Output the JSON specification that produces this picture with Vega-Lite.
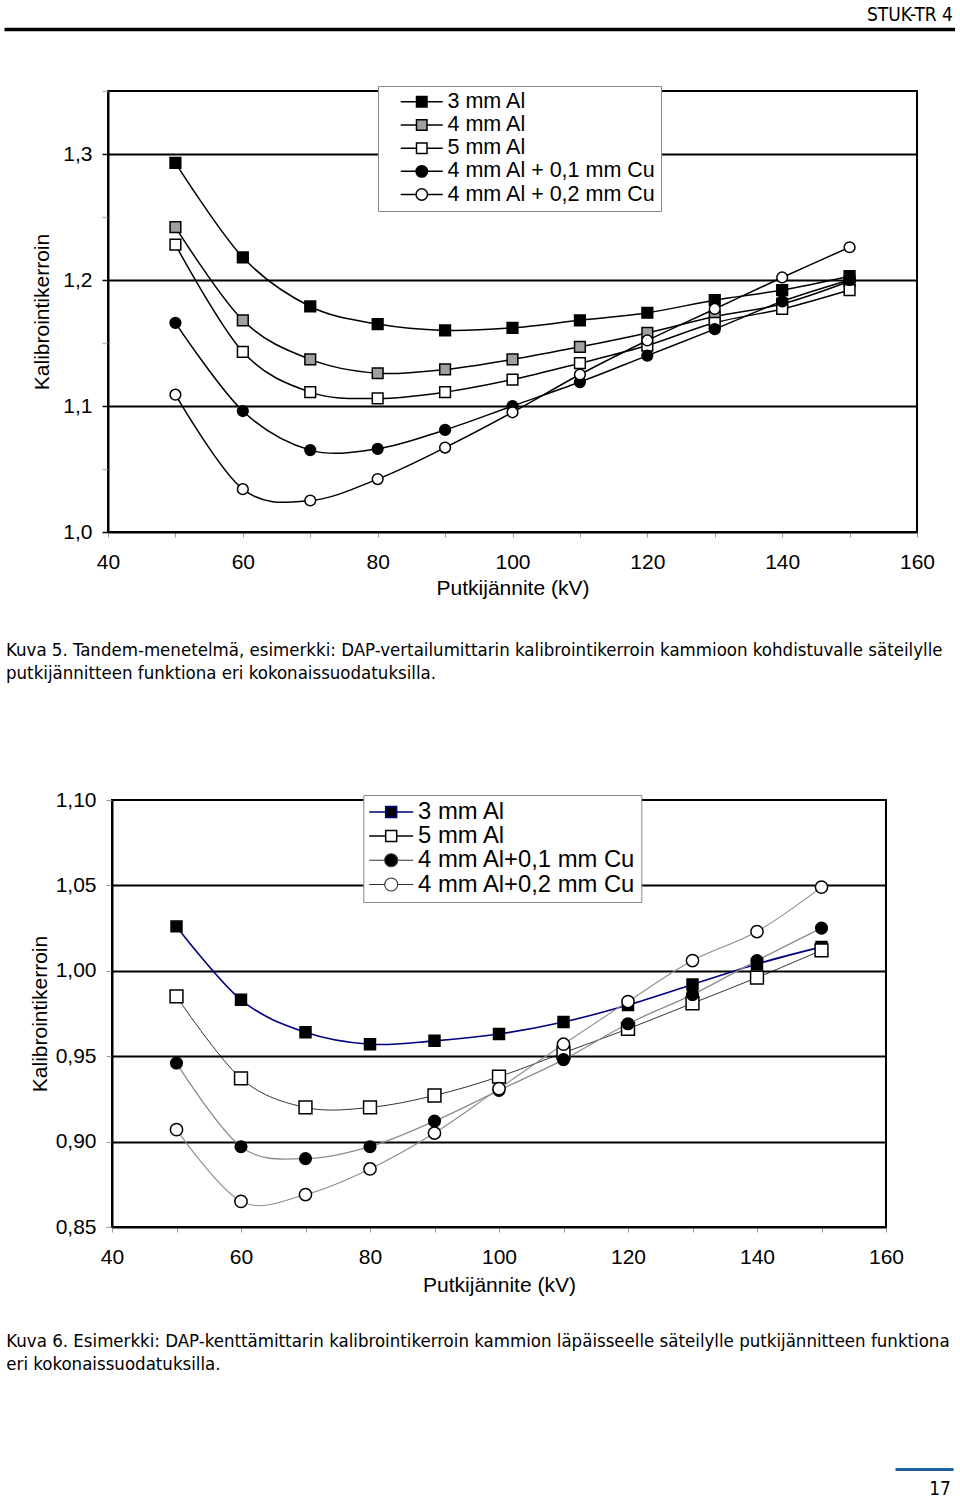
{
  "$schema": "https://vega.github.io/schema/vega-lite/v6.json",
  "background": "white",
  "padding": {"left": 4, "top": 6, "right": 0, "bottom": 0},
  "columns": 1,
  "align": "none",
  "spacing": 0,
  "resolve": {
    "scale": {"shape": "independent", "fill": "independent", "stroke": "independent", "size": "independent", "strokeWidth": "independent"},
    "legend": {"shape": "independent", "fill": "independent", "stroke": "independent", "strokeWidth": "independent"}
  },
  "config": {
    "font": "Liberation Sans",
    "view": {"stroke": null},
    "axis": {"labelFont": "Liberation Sans", "titleFont": "Liberation Sans", "titleFontWeight": "normal", "labelColor": "black", "titleColor": "black"},
    "legend": {"labelFont": "Liberation Sans", "labelColor": "black"}
  },
  "datasets": {
    "kuva5": [
      {"series": "3 mm Al", "kV": 50, "k": 1.293}, {"series": "3 mm Al", "kV": 60, "k": 1.218}, {"series": "3 mm Al", "kV": 70, "k": 1.179}, {"series": "3 mm Al", "kV": 80, "k": 1.165}, {"series": "3 mm Al", "kV": 90, "k": 1.160}, {"series": "3 mm Al", "kV": 100, "k": 1.162}, {"series": "3 mm Al", "kV": 110, "k": 1.168}, {"series": "3 mm Al", "kV": 120, "k": 1.174}, {"series": "3 mm Al", "kV": 130, "k": 1.184}, {"series": "3 mm Al", "kV": 140, "k": 1.192}, {"series": "3 mm Al", "kV": 150, "k": 1.203},
      {"series": "4 mm Al", "kV": 50, "k": 1.242}, {"series": "4 mm Al", "kV": 60, "k": 1.168}, {"series": "4 mm Al", "kV": 70, "k": 1.137}, {"series": "4 mm Al", "kV": 80, "k": 1.126}, {"series": "4 mm Al", "kV": 90, "k": 1.129}, {"series": "4 mm Al", "kV": 100, "k": 1.137}, {"series": "4 mm Al", "kV": 110, "k": 1.147}, {"series": "4 mm Al", "kV": 120, "k": 1.158}, {"series": "4 mm Al", "kV": 130, "k": 1.171}, {"series": "4 mm Al", "kV": 140, "k": 1.181}, {"series": "4 mm Al", "kV": 150, "k": 1.199},
      {"series": "5 mm Al", "kV": 50, "k": 1.228}, {"series": "5 mm Al", "kV": 60, "k": 1.143}, {"series": "5 mm Al", "kV": 70, "k": 1.111}, {"series": "5 mm Al", "kV": 80, "k": 1.106}, {"series": "5 mm Al", "kV": 90, "k": 1.111}, {"series": "5 mm Al", "kV": 100, "k": 1.121}, {"series": "5 mm Al", "kV": 110, "k": 1.134}, {"series": "5 mm Al", "kV": 120, "k": 1.148}, {"series": "5 mm Al", "kV": 130, "k": 1.166}, {"series": "5 mm Al", "kV": 140, "k": 1.177}, {"series": "5 mm Al", "kV": 150, "k": 1.192},
      {"series": "4 mm Al + 0,1 mm Cu", "kV": 50, "k": 1.166}, {"series": "4 mm Al + 0,1 mm Cu", "kV": 60, "k": 1.096}, {"series": "4 mm Al + 0,1 mm Cu", "kV": 70, "k": 1.065}, {"series": "4 mm Al + 0,1 mm Cu", "kV": 80, "k": 1.066}, {"series": "4 mm Al + 0,1 mm Cu", "kV": 90, "k": 1.081}, {"series": "4 mm Al + 0,1 mm Cu", "kV": 100, "k": 1.100}, {"series": "4 mm Al + 0,1 mm Cu", "kV": 110, "k": 1.119}, {"series": "4 mm Al + 0,1 mm Cu", "kV": 120, "k": 1.140}, {"series": "4 mm Al + 0,1 mm Cu", "kV": 130, "k": 1.161}, {"series": "4 mm Al + 0,1 mm Cu", "kV": 140, "k": 1.183}, {"series": "4 mm Al + 0,1 mm Cu", "kV": 150, "k": 1.200},
      {"series": "4 mm Al + 0,2 mm Cu", "kV": 50, "k": 1.109}, {"series": "4 mm Al + 0,2 mm Cu", "kV": 60, "k": 1.034}, {"series": "4 mm Al + 0,2 mm Cu", "kV": 70, "k": 1.025}, {"series": "4 mm Al + 0,2 mm Cu", "kV": 80, "k": 1.042}, {"series": "4 mm Al + 0,2 mm Cu", "kV": 90, "k": 1.067}, {"series": "4 mm Al + 0,2 mm Cu", "kV": 100, "k": 1.095}, {"series": "4 mm Al + 0,2 mm Cu", "kV": 110, "k": 1.125}, {"series": "4 mm Al + 0,2 mm Cu", "kV": 120, "k": 1.152}, {"series": "4 mm Al + 0,2 mm Cu", "kV": 130, "k": 1.177}, {"series": "4 mm Al + 0,2 mm Cu", "kV": 140, "k": 1.202}, {"series": "4 mm Al + 0,2 mm Cu", "kV": 150, "k": 1.226}
    ],
    "kuva6": [
      {"series": "3 mm Al", "kV": 50, "k": 1.026}, {"series": "3 mm Al", "kV": 60, "k": 0.983}, {"series": "3 mm Al", "kV": 70, "k": 0.964}, {"series": "3 mm Al", "kV": 80, "k": 0.957}, {"series": "3 mm Al", "kV": 90, "k": 0.959}, {"series": "3 mm Al", "kV": 100, "k": 0.963}, {"series": "3 mm Al", "kV": 110, "k": 0.970}, {"series": "3 mm Al", "kV": 120, "k": 0.980}, {"series": "3 mm Al", "kV": 130, "k": 0.992}, {"series": "3 mm Al", "kV": 140, "k": 1.004}, {"series": "3 mm Al", "kV": 150, "k": 1.014},
      {"series": "5 mm Al", "kV": 50, "k": 0.985}, {"series": "5 mm Al", "kV": 60, "k": 0.937}, {"series": "5 mm Al", "kV": 70, "k": 0.920}, {"series": "5 mm Al", "kV": 80, "k": 0.920}, {"series": "5 mm Al", "kV": 90, "k": 0.927}, {"series": "5 mm Al", "kV": 100, "k": 0.938}, {"series": "5 mm Al", "kV": 110, "k": 0.952}, {"series": "5 mm Al", "kV": 120, "k": 0.966}, {"series": "5 mm Al", "kV": 130, "k": 0.981}, {"series": "5 mm Al", "kV": 140, "k": 0.996}, {"series": "5 mm Al", "kV": 150, "k": 1.012},
      {"series": "4 mm Al+0,1 mm Cu", "kV": 50, "k": 0.946}, {"series": "4 mm Al+0,1 mm Cu", "kV": 60, "k": 0.897}, {"series": "4 mm Al+0,1 mm Cu", "kV": 70, "k": 0.890}, {"series": "4 mm Al+0,1 mm Cu", "kV": 80, "k": 0.897}, {"series": "4 mm Al+0,1 mm Cu", "kV": 90, "k": 0.912}, {"series": "4 mm Al+0,1 mm Cu", "kV": 100, "k": 0.930}, {"series": "4 mm Al+0,1 mm Cu", "kV": 110, "k": 0.948}, {"series": "4 mm Al+0,1 mm Cu", "kV": 120, "k": 0.969}, {"series": "4 mm Al+0,1 mm Cu", "kV": 130, "k": 0.986}, {"series": "4 mm Al+0,1 mm Cu", "kV": 140, "k": 1.006}, {"series": "4 mm Al+0,1 mm Cu", "kV": 150, "k": 1.025},
      {"series": "4 mm Al+0,2 mm Cu", "kV": 50, "k": 0.907}, {"series": "4 mm Al+0,2 mm Cu", "kV": 60, "k": 0.865}, {"series": "4 mm Al+0,2 mm Cu", "kV": 70, "k": 0.869}, {"series": "4 mm Al+0,2 mm Cu", "kV": 80, "k": 0.884}, {"series": "4 mm Al+0,2 mm Cu", "kV": 90, "k": 0.905}, {"series": "4 mm Al+0,2 mm Cu", "kV": 100, "k": 0.931}, {"series": "4 mm Al+0,2 mm Cu", "kV": 110, "k": 0.957}, {"series": "4 mm Al+0,2 mm Cu", "kV": 120, "k": 0.982}, {"series": "4 mm Al+0,2 mm Cu", "kV": 130, "k": 1.006}, {"series": "4 mm Al+0,2 mm Cu", "kV": 140, "k": 1.023}, {"series": "4 mm Al+0,2 mm Cu", "kV": 150, "k": 1.049}
    ],
    "marker": [{"a": 0.5}],
    "none": []
  },
  "concat": [
    {
      "width": 951,
      "height": 50,
      "view": {"stroke": null},
      "data": {"name": "marker"},
      "mark": {"type": "point", "opacity": 0, "size": 1},
      "encoding": {
        "x": {"field": "a", "type": "quantitative", "scale": {"domain": [0, 1]},
          "axis": {"orient": "top", "domainWidth": 3.5, "domainColor": "black", "ticks": false, "labels": false, "grid": false, "title": null}}
      },
      "title": {"text": "STUK-TR 4", "anchor": "end", "frame": "group", "font": "DejaVu Sans Condensed, Liberation Sans", "fontSize": 19, "fontWeight": "normal", "color": "black", "offset": 4, "dx": -2}
    },
    {
      "spacing": 0,
      "resolve": {"scale": {"shape": "independent", "fill": "independent"}, "legend": {"shape": "independent", "fill": "independent"}},
      "hconcat": [
        {
          "width": 1, "height": 1, "view": {"stroke": null},
          "data": {"name": "none"}, "mark": "point"
        },
        {
          "width": 809,
          "height": 441,
          "view": {"stroke": "black", "strokeWidth": 2},
          "data": {"name": "kuva5"},
          "title": {
            "text": ["Kuva 5. Tandem-menetelmä, esimerkki: DAP-vertailumittarin kalibrointikerroin kammioon kohdistuvalle säteilylle", "putkijännitteen funktiona eri kokonaissuodatuksilla."],
            "orient": "bottom", "anchor": "start", "frame": "group", "align": "left", "dx": -102, "offset": 43,
            "font": "DejaVu Sans Condensed, Liberation Sans", "fontSize": 18.5, "fontWeight": "normal", "color": "black", "lineHeight": 23
          },
          "resolve": {"scale": {"shape": "independent", "fill": "independent"}, "legend": {"shape": "independent", "fill": "independent"}},
          "encoding": {
            "x": {"field": "kV", "type": "quantitative", "scale": {"domain": [40, 160], "nice": false, "zero": false},
              "axis": {"values": [40, 50, 60, 70, 80, 90, 100, 110, 120, 130, 140, 150, 160],
                "labelExpr": "datum.value % 20 == 0 ? datum.label : ''",
                "title": "Putkijännite (kV)", "titleFontSize": 21, "titlePadding": 5,
                "labelFontSize": 21, "labelPadding": 14, "labelFlush": false, "labelOverlap": false,
                "tickSize": 5, "tickColor": "#999999", "tickWidth": 1,
                "domainColor": "black", "domainWidth": 2, "grid": false}},
            "y": {"field": "k", "type": "quantitative", "scale": {"domain": [1.0, 1.35], "nice": false, "zero": false},
              "axis": {"values": [1.0, 1.05, 1.1, 1.15, 1.2, 1.25, 1.3, 1.35],
                "labelExpr": "round(datum.value*100) % 10 == 0 ? replace(format(datum.value, '.1f'), '.', ',') : ''",
                "title": "Kalibrointikerroin", "titleFontSize": 21, "titlePadding": 10,
                "labelFontSize": 21, "labelPadding": 10, "labelOverlap": false, "labelFlush": false,
                "tickSize": 6, "tickWidth": 1.5,
                "tickColor": {"condition": {"test": "round(datum.value*100) % 10 == 0", "value": "black"}, "value": "#bbbbbb"},
                "grid": true, "gridColor": "black", "gridWidth": 2,
                "gridOpacity": {"condition": {"test": "round(datum.value*100) % 10 == 0 && datum.value > 1.01 && datum.value < 1.34", "value": 1}, "value": 0},
                "domainColor": "black", "domainWidth": 2}}
          },
          "layer": [
            {
              "mark": {"type": "line", "interpolate": "cardinal", "color": "black", "strokeWidth": 1.5},
              "encoding": {"detail": {"field": "series", "type": "nominal"}}
            },
            {
              "mark": {"type": "point", "filled": true, "stroke": "black", "strokeWidth": 1.5, "size": 115, "opacity": 1},
              "encoding": {
                "shape": {"field": "series", "type": "nominal",
                  "scale": {"range": ["square", "square", "circle", "circle", "square"]}, "legend": null},
                "fill": {"field": "series", "type": "nominal",
                  "scale": {"range": ["black", "#a0a0a0", "black", "white", "white"]}, "legend": null}
              }
            },
            {
              "transform": [{"filter": "false"}],
              "mark": {"type": "point", "filled": true, "stroke": "black", "strokeWidth": 1.5, "size": 121, "opacity": 1},
              "encoding": {
                "shape": {"field": "series", "type": "nominal",
                  "scale": {"domain": ["3 mm Al", "4 mm Al", "5 mm Al", "4 mm Al + 0,1 mm Cu", "4 mm Al + 0,2 mm Cu"],
                    "range": ["M-3.82,0H-0.955M0.955,0H3.82M-0.955,-0.955H0.955V0.955H-0.955Z", "M-3.82,0H-0.955M0.955,0H3.82M-0.955,-0.955H0.955V0.955H-0.955Z", "M-3.82,0H-0.955M0.955,0H3.82M-0.955,-0.955H0.955V0.955H-0.955Z", "M-3.82,0H-1.04M1.04,0H3.82M-1.04,0A1.04,1.04,0,1,1,1.04,0A1.04,1.04,0,1,1,-1.04,0Z", "M-3.82,0H-1.04M1.04,0H3.82M-1.04,0A1.04,1.04,0,1,1,1.04,0A1.04,1.04,0,1,1,-1.04,0Z"]},
                  "legend": {"orient": "none", "legendX": 270, "legendY": -5, "title": null, "fillColor": "white", "strokeColor": "#888888", "padding": 5,
                    "labelFontSize": 21.5, "labelLimit": 0, "labelOffset": 15, "symbolOffset": 28, "rowPadding": 0.2, "symbolSize": 121,
                    "labelExpr": "datum.label + '\u2003'"}},
                "fill": {"field": "series", "type": "nominal",
                  "scale": {"domain": ["3 mm Al", "4 mm Al", "5 mm Al", "4 mm Al + 0,1 mm Cu", "4 mm Al + 0,2 mm Cu"], "range": ["black", "#a0a0a0", "white", "black", "white"]},
                  "legend": {"orient": "none", "legendX": 270, "legendY": -5, "title": null, "fillColor": "white", "strokeColor": "#888888", "padding": 5,
                    "labelFontSize": 21.5, "labelLimit": 0, "labelOffset": 15, "symbolOffset": 28, "rowPadding": 0.2, "symbolSize": 121,
                    "labelExpr": "datum.label + '\u2003'"}}
              }
            }
          ]
        }
      ]
    },
    {
      "width": 10, "height": 104, "view": {"stroke": null},
      "data": {"name": "none"}, "mark": "point"
    },
    {
      "spacing": 0,
      "resolve": {"scale": {"shape": "independent", "fill": "independent", "stroke": "independent", "size": "independent", "strokeWidth": "independent"}, "legend": {"shape": "independent", "fill": "independent", "stroke": "independent", "strokeWidth": "independent"}},
      "hconcat": [
        {
          "width": 1, "height": 1, "view": {"stroke": null},
          "data": {"name": "none"}, "mark": "point"
        },
        {
          "width": 774,
          "height": 427,
          "view": {"stroke": "black", "strokeWidth": 2},
          "data": {"name": "kuva6"},
          "title": {
            "text": ["Kuva 6. Esimerkki: DAP-kenttämittarin kalibrointikerroin kammion läpäisseelle säteilylle putkijännitteen funktiona", "eri kokonaissuodatuksilla."],
            "orient": "bottom", "anchor": "start", "frame": "group", "align": "left", "dx": -105.7, "offset": 36.5,
            "font": "DejaVu Sans Condensed, Liberation Sans", "fontSize": 18.5, "fontWeight": "normal", "color": "black", "lineHeight": 23
          },
          "resolve": {"scale": {"shape": "independent", "fill": "independent", "stroke": "independent", "size": "independent", "strokeWidth": "independent"}, "legend": {"shape": "independent", "fill": "independent", "stroke": "independent", "strokeWidth": "independent"}},
          "encoding": {
            "x": {"field": "kV", "type": "quantitative", "scale": {"domain": [40, 160], "nice": false, "zero": false},
              "axis": {"values": [40, 50, 60, 70, 80, 90, 100, 110, 120, 130, 140, 150, 160],
                "labelExpr": "datum.value % 20 == 0 ? datum.label : ''",
                "title": "Putkijännite (kV)", "titleFontSize": 21, "titlePadding": 7,
                "labelFontSize": 21, "labelPadding": 14, "labelFlush": false, "labelOverlap": false,
                "tickSize": 5, "tickColor": "#999999", "tickWidth": 1,
                "domainColor": "black", "domainWidth": 2, "grid": false}},
            "y": {"field": "k", "type": "quantitative", "scale": {"domain": [0.85, 1.1], "nice": false, "zero": false},
              "axis": {"values": [0.85, 0.9, 0.95, 1.0, 1.05, 1.1],
                "labelExpr": "replace(format(datum.value, '.2f'), '.', ',')",
                "title": "Kalibrointikerroin", "titleFontSize": 21, "titlePadding": 4.5,
                "labelFontSize": 21, "labelPadding": 10, "labelOverlap": false, "labelFlush": false,
                "tickSize": 6, "tickWidth": 1, "tickColor": "#999999",
                "grid": true, "gridColor": "black", "gridWidth": 2,
                "gridOpacity": {"condition": {"test": "datum.value > 0.86 && datum.value < 1.09", "value": 1}, "value": 0},
                "domainColor": "black", "domainWidth": 2}}
          },
          "layer": [
            {
              "mark": {"type": "line", "interpolate": "cardinal"},
              "encoding": {
                "stroke": {"field": "series", "type": "nominal",
                  "scale": {"range": ["#000080", "#8c8c8c", "#8c8c8c", "black"]}, "legend": null},
                "strokeWidth": {"field": "series", "type": "ordinal",
                  "scale": {"range": [1.6, 0.8, 0.8, 1.6]}, "legend": null}
              }
            },
            {
              "mark": {"type": "point", "filled": true, "stroke": "black", "strokeWidth": 1.5, "opacity": 1},
              "encoding": {
                "size": {"field": "series", "type": "ordinal",
                  "scale": {"range": [120, 165, 165, 120]}, "legend": null},
                "shape": {"field": "series", "type": "nominal",
                  "scale": {"range": ["square", "circle", "circle", "square"]}, "legend": null},
                "fill": {"field": "series", "type": "nominal",
                  "scale": {"range": ["black", "black", "white", "white"]}, "legend": null}
              }
            },
            {
              "transform": [{"filter": "false"}],
              "mark": {"type": "point", "filled": true, "size": 121, "opacity": 1},
              "encoding": {
                "shape": {"field": "series", "type": "nominal",
                  "scale": {"domain": ["3 mm Al", "5 mm Al", "4 mm Al+0,1 mm Cu", "4 mm Al+0,2 mm Cu"],
                    "range": ["M-4,0H-1M1,0H4M-1,-1H1V1H-1Z", "M-4,0H-1M1,0H4M-1,-1H1V1H-1Z", "M-4,0H-1.18M1.18,0H4M-1.18,0A1.18,1.18,0,1,1,1.18,0A1.18,1.18,0,1,1,-1.18,0Z", "M-4,0H-1.18M1.18,0H4M-1.18,0A1.18,1.18,0,1,1,1.18,0A1.18,1.18,0,1,1,-1.18,0Z"]},
                  "legend": {"orient": "none", "legendX": 251.3, "legendY": -5, "title": null, "fillColor": "white", "strokeColor": "#888888", "padding": 5,
                    "labelFontSize": 23.8, "labelLimit": 0, "labelOffset": 15, "symbolOffset": 11, "rowPadding": -0.8, "symbolSize": 121}},
                "fill": {"field": "series", "type": "nominal",
                  "scale": {"domain": ["3 mm Al", "5 mm Al", "4 mm Al+0,1 mm Cu", "4 mm Al+0,2 mm Cu"], "range": ["black", "white", "black", "white"]},
                  "legend": {"orient": "none", "legendX": 251.3, "legendY": -5, "title": null, "fillColor": "white", "strokeColor": "#888888", "padding": 5,
                    "labelFontSize": 23.8, "labelLimit": 0, "labelOffset": 15, "symbolOffset": 11, "rowPadding": -0.8, "symbolSize": 121}},
                "stroke": {"field": "series", "type": "nominal",
                  "scale": {"domain": ["3 mm Al", "5 mm Al", "4 mm Al+0,1 mm Cu", "4 mm Al+0,2 mm Cu"], "range": ["#000080", "black", "#333333", "#333333"]},
                  "legend": {"orient": "none", "legendX": 251.3, "legendY": -5, "title": null, "fillColor": "white", "strokeColor": "#888888", "padding": 5,
                    "labelFontSize": 23.8, "labelLimit": 0, "labelOffset": 15, "symbolOffset": 11, "rowPadding": -0.8, "symbolSize": 121}},
                "strokeWidth": {"field": "series", "type": "nominal",
                  "scale": {"type": "ordinal", "domain": ["3 mm Al", "5 mm Al", "4 mm Al+0,1 mm Cu", "4 mm Al+0,2 mm Cu"], "range": [1.5, 1.5, 1.1, 1.1]},
                  "legend": {"orient": "none", "legendX": 251.3, "legendY": -5, "title": null, "fillColor": "white", "strokeColor": "#888888", "padding": 5,
                    "labelFontSize": 23.8, "labelLimit": 0, "labelOffset": 15, "symbolOffset": 11, "rowPadding": -0.8, "symbolSize": 121}}
              }
            }
          ]
        }
      ]
    },
    {
      "width": 10, "height": 94.2, "view": {"stroke": null},
      "data": {"name": "none"}, "mark": "point"
    },
    {
      "spacing": 0,
      "hconcat": [
        {
          "width": 891, "height": 1, "view": {"stroke": null},
          "data": {"name": "none"}, "mark": "point"
        },
        {
          "width": 58, "height": 1, "view": {"stroke": null},
          "data": {"name": "marker"},
          "mark": {"type": "point", "opacity": 0, "size": 1},
          "encoding": {
            "x": {"field": "a", "type": "quantitative", "scale": {"domain": [0, 1]},
              "axis": {"orient": "top", "domainWidth": 3, "domainColor": "#1f5f9f", "ticks": false, "labels": false, "grid": false, "title": null}}
          },
          "title": {"text": "17", "orient": "bottom", "anchor": "end", "frame": "group", "font": "DejaVu Sans Condensed, Liberation Sans", "fontSize": 19, "fontWeight": "normal", "color": "black", "offset": 10.3, "dx": -2}
        }
      ]
    }
  ]
}
